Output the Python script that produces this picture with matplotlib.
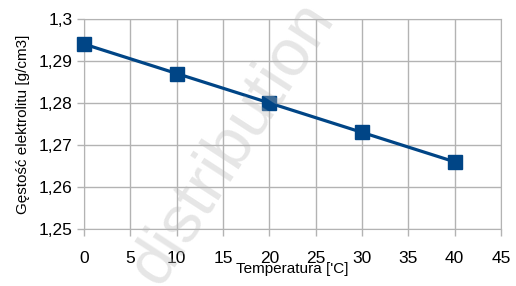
import matplotlib.pyplot as plt
import numpy as np

plt.rcParams['font.family'] = ['Liberation Sans', 'DejaVu Sans']

temperature = [0, 10, 20, 30, 40]
density = [1.294, 1.287, 1.280, 1.273, 1.266]
x_ticks = [0, 5, 10, 15, 20, 25, 30, 35, 40, 45]
y_ticks = [1.25, 1.26, 1.27, 1.28, 1.29, 1.30]
y_tick_labels = ['1,25', '1,26', '1,27', '1,28', '1,29', '1,3']


def main():
    fig = plt.figure(figsize=(5.16, 2.86), dpi=100)
    ax = fig.add_axes([0.163, 0.199, 0.808, 0.735])

    ax.plot(temperature, density, color='#004586', linewidth=2.3,
            marker='s', markersize=10, zorder=3, clip_on=False)

    ax.set_xlim(0, 45)
    ax.set_ylim(1.25, 1.30)
    ax.set_xticks(x_ticks)
    ax.set_yticks(y_ticks)
    ax.set_yticklabels(y_tick_labels)
    ax.tick_params(labelsize=12.5, color='#b3b3b3', length=5, width=1)
    ax.tick_params(axis='x', pad=11)
    ax.grid(True, color='#b3b3b3', linewidth=1)
    ax.set_axisbelow(True)
    for s in ax.spines.values():
        s.set_color('#b3b3b3')

    ax.set_xlabel('Temperatura [\'C]', fontsize=11, labelpad=-3)
    ax.set_ylabel('Gęstość elektrolitu [g/cm3]', fontsize=11, labelpad=6)

    # watermark
    fig.text(0.45, 0.5, 'distribution', fontsize=48, color='#b8b8b8',
             rotation=57, ha='center', va='center', alpha=0.35, zorder=10)

    fig.savefig('out.png', dpi=100)


if __name__ == '__main__':
    main()
